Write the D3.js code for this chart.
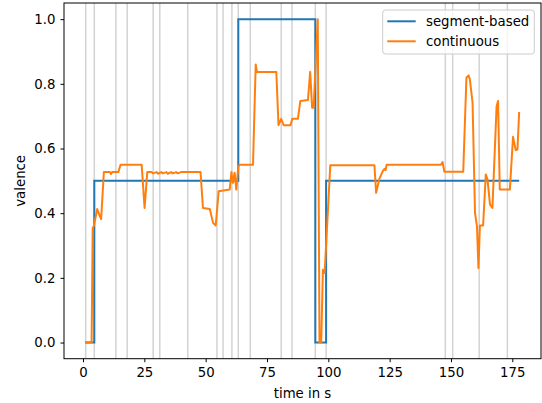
<!DOCTYPE html>
<html lang="en">
<head>
    <meta charset="utf-8">
    <title>Valence over time</title>
    <script src="https://cdn.jsdelivr.net/npm/d3@7"></script>
    <style>
        body { margin: 0; background: #fff; }
        svg { display: block; font-family: "DejaVu Sans", sans-serif; }
    </style>
</head>
<body>
    <svg id="chart" width="542" height="403"></svg>

    <script>
        // segment boundaries (grey vertical lines), in seconds
        const boundaries = [1.1, 4.6, 13.4, 18.0, 28.6, 31.3, 42.7, 54.6, 57.1, 60.7,
                            63.3, 68.2, 80.8, 85.2, 94.7, 99.1, 147.7, 150.7, 161.5, 173.0];

        // segment-based valence: value starts at each time, held until the next
        const segTime = [0.9, 4.6, 63.3, 94.7, 99.1, 177.8];
        const segValence = [0, 0.5, 1.0, 0, 0.5, 0.5];

        // continuous valence
        const contTime = [0.9, 3.5, 3.95, 4.4, 5.8, 6.6, 7.4, 8.5, 11.0, 11.4, 11.9, 14.4, 15.3,
            23.9, 25.1, 26.2, 28.0, 28.5, 30.0, 30.5, 32.0, 32.5, 34.0, 34.5, 36.0, 36.5, 38.0, 38.5, 40.0, 47.9,
            48.9, 51.7, 53.0, 54.1, 55.3, 59.8, 60.5, 61.1, 61.8, 62.5, 63.3, 64.0, 69.3,
            70.4, 70.9, 78.8, 79.7, 80.8, 81.8, 84.6, 85.3, 87.6, 88.6, 91.7, 92.6, 93.4, 94.0,
            95.7, 96.4, 97.1, 97.8, 98.5, 100.8, 118.8, 119.5, 120.8, 122.2, 122.9, 123.3, 123.8,
            145.9, 146.6, 147.3, 155.0, 156.3, 157.2, 157.7, 158.8, 159.8, 160.6, 161.2, 161.8,
            163.1, 164.2, 164.9, 165.9, 166.9, 168.6, 169.2, 169.9, 174.0, 175.3, 176.4, 177.1, 177.8];
        const contValence = [0, 0, 0.354, 0.36, 0.413, 0.396, 0.382, 0.527, 0.527, 0.521, 0.527, 0.527, 0.55,
            0.55, 0.416, 0.527, 0.527, 0.523, 0.527, 0.522, 0.527, 0.523, 0.527, 0.522, 0.527, 0.523, 0.527, 0.523, 0.527, 0.527,
            0.416, 0.413, 0.37, 0.362, 0.468, 0.473, 0.527, 0.494, 0.525, 0.473, 0.545, 0.55, 0.55,
            0.86, 0.837, 0.837, 0.672, 0.692, 0.672, 0.672, 0.692, 0.692, 0.747, 0.75, 0.837, 0.726, 0.726,
            1.0, 0, 0, 0.225, 0.215, 0.548, 0.548, 0.463, 0.506, 0.53, 0.537, 0.533, 0.55,
            0.55, 0.558, 0.528, 0.528, 0.819, 0.826, 0.814, 0.742, 0.401, 0.36, 0.23, 0.362,
            0.362, 0.52, 0.504, 0.427, 0.416, 0.731, 0.747, 0.473, 0.473, 0.636, 0.595, 0.597, 0.713];

        const xTicks = [0, 25, 50, 75, 100, 125, 150, 175];
        const yTicks = [0, 0.2, 0.4, 0.6, 0.8, 1.0];

        const svg = d3.select("#chart");
        const plotLeft = 64, plotRight = 541, plotTop = 3, plotBottom = 358.7;

        const x = d3.scaleLinear().domain([-7.75, 186.7]).range([plotLeft, plotRight]);
        const y = d3.scaleLinear().domain([-0.05, 1.05]).range([plotBottom, plotTop]);

        // grey boundary lines
        svg.append("g")
            .selectAll("line")
            .data(boundaries)
            .join("line")
            .attr("x1", d => x(d)).attr("x2", d => x(d))
            .attr("y1", plotTop).attr("y2", plotBottom)
            .attr("stroke", "#d3d3d3")
            .attr("stroke-width", 1.5);

        const segLine = d3.line()
            .x((d, i) => x(segTime[i]))
            .y(d => y(d))
            .curve(d3.curveStepAfter);

        svg.append("path")
            .datum(segValence)
            .attr("d", segLine)
            .attr("fill", "none")
            .attr("stroke", "#1f77b4")
            .attr("stroke-width", 2);

        const contLine = d3.line()
            .x((d, i) => x(contTime[i]))
            .y(d => y(d));

        svg.append("path")
            .datum(contValence)
            .attr("d", contLine)
            .attr("fill", "none")
            .attr("stroke", "#ff7f0e")
            .attr("stroke-width", 2)
            .attr("stroke-linejoin", "round");

        // axes
        const xAxis = svg.append("g")
            .attr("transform", `translate(0,${plotBottom})`)
            .call(d3.axisBottom(x).tickValues(xTicks).tickSize(3.5).tickPadding(5));
        const yAxis = svg.append("g")
            .attr("transform", `translate(${plotLeft},0)`)
            .call(d3.axisLeft(y).tickValues(yTicks).tickFormat(d3.format(".1f")).tickSize(3.5).tickPadding(5));

        [xAxis, yAxis].forEach(g => {
            g.select(".domain").remove();
            g.selectAll("text").attr("font-size", 13.3).attr("font-family", "DejaVu Sans").attr("fill", "#000");
            g.selectAll("line").attr("stroke", "#000").attr("stroke-width", 1);
        });

        svg.append("rect")
            .attr("x", plotLeft).attr("y", plotTop)
            .attr("width", plotRight - plotLeft).attr("height", plotBottom - plotTop)
            .attr("fill", "none")
            .attr("stroke", "#000")
            .attr("stroke-width", 1);

        // axis labels
        svg.append("text")
            .attr("x", (plotLeft + plotRight) / 2).attr("y", 398)
            .attr("text-anchor", "middle")
            .attr("font-size", 13.3)
            .text("time in s");

        svg.append("text")
            .attr("transform", `translate(25,${(plotTop + plotBottom) / 2}) rotate(-90)`)
            .attr("text-anchor", "middle")
            .attr("font-size", 13.3)
            .text("valence");

        // legend
        const legend = svg.append("g");
        legend.append("rect")
            .attr("x", 382.7).attr("y", 10)
            .attr("width", 151.6).attr("height", 44)
            .attr("rx", 3)
            .attr("fill", "#fff").attr("fill-opacity", 0.8)
            .attr("stroke", "#ccc").attr("stroke-width", 1);

        const legendItems = [
            { label: "segment-based", color: "#1f77b4" },
            { label: "continuous", color: "#ff7f0e" }
        ];
        legendItems.forEach((d, i) => {
            const cy = 21.3 + i * 20;
            legend.append("line")
                .attr("x1", 387.3).attr("x2", 415.7)
                .attr("y1", cy).attr("y2", cy)
                .attr("stroke", d.color).attr("stroke-width", 2);
            legend.append("text")
                .attr("x", 426).attr("y", cy + 4.7)
                .attr("font-size", 13.3)
                .text(d.label);
        });
    </script>
</body>
</html>
